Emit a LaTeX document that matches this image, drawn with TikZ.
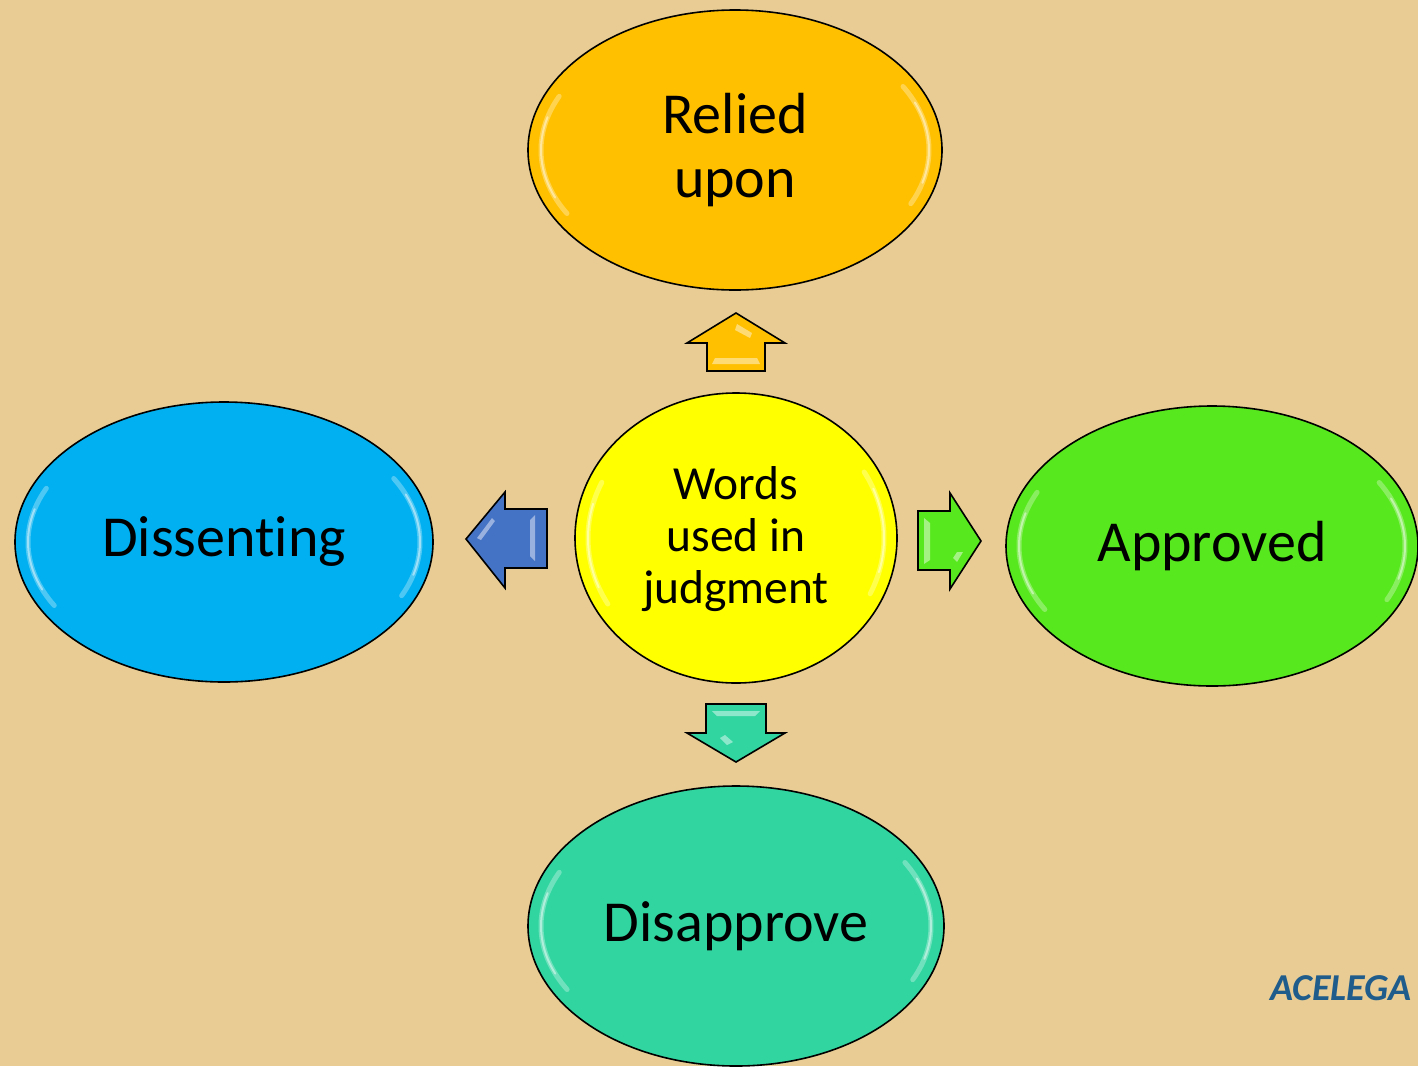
\documentclass[tikz,border=0pt]{standalone}
\usepackage{fontspec}
\setmainfont{Carlito}[Ligatures=NoCommon]
\usetikzlibrary{shapes.geometric}
\begin{document}
\definecolor{parchment}{HTML}{E8CC93}
\definecolor{reliedc}{HTML}{FFC000}
\definecolor{wordsc}{HTML}{FFFF00}
\definecolor{dissentc}{HTML}{00B0F0}
\definecolor{approvec}{HTML}{58E81E}
\definecolor{disapprc}{HTML}{31D5A0}
\definecolor{leftarrc}{HTML}{4472C4}
\definecolor{markc}{HTML}{1F5C8C}
\begin{tikzpicture}[x=1pt,y=-1pt,
  blockarrow/.style={draw=black, line width=1.6pt, line join=miter},
  bigtext/.style={font=\fontsize{58}{64}\selectfont},
  midtext/.style={font=\fontsize{47.5}{52}\selectfont},
  gloss/.style={draw=white, line width=5pt, opacity=0.3, line cap=round},
  glossthin/.style={draw=white, line width=2pt, opacity=0.45, line cap=round},
  shine/.style={fill=white, opacity=0.45}]
% page and background
\fill[parchment] (0,0) rectangle (1418,1066);
\useasboundingbox (0,0) rectangle (1418,1066);

% bubbles with a soft glossy rim
\newcommand{\bubble}[5]{%
  % #1 name, #2 centre, #3 x radius, #4 y radius, #5 fill
  \fill[#5, draw=black, line width=1.6pt] #2 ellipse[x radius=#3, y radius=#4];
  \draw[gloss] #2 ++(150:#3-13 and #4-13) arc[start angle=150, end angle=205, x radius=#3-13, y radius=#4-13];
  \draw[gloss] #2 ++(-30:#3-13 and #4-13) arc[start angle=-30, end angle=25, x radius=#3-13, y radius=#4-13];
  \draw[glossthin] #2 ++(158:#3-13 and #4-13) arc[start angle=158, end angle=195, x radius=#3-13, y radius=#4-13];
  \draw[glossthin] #2 ++(-22:#3-13 and #4-13) arc[start angle=-22, end angle=15, x radius=#3-13, y radius=#4-13];
  \coordinate (#1) at #2;
}
\bubble{relied}{(735,150)}{207}{140}{reliedc}
\bubble{words}{(736,538)}{161}{145}{wordsc}
\bubble{dissent}{(224,542)}{209}{140}{dissentc}
\bubble{approve}{(1212,546)}{206}{140}{approvec}
\bubble{disappr}{(736,926)}{208}{140}{disapprc}

% labels
\node[bigtext, align=center] (reliedtxt) at (relied) {Relied\\upon};
\node[midtext, align=center] (wordstxt) at ([yshift=-1]words) {Words\\used in\\judgment};
\node[bigtext] (dissenttxt) at (dissent) {Dissenting};
\node[bigtext] (approvetxt) at (approve) {Approved};
\node[bigtext] (disapprtxt) at (disappr) {Disapprove};

% block arrows pointing outwards from the centre
\draw[blockarrow, fill=reliedc]
  (736,313) -- (785,343) -- (765,343) -- (765,371) -- (707,371) -- (707,343) -- (687,343) -- cycle;
\fill[shine] (737,324) -- (752,333) -- (750,338) -- (735,330) -- cycle;
\fill[shine] (715,358) -- (757,358) -- (760,364) -- (712,364) -- cycle;

\draw[blockarrow, fill=leftarrc]
  (466,539) -- (505,492) -- (505,509) -- (547,509) -- (547,568) -- (505,568) -- (505,588) -- cycle;
\fill[shine] (477,538) -- (492,518) -- (495,521) -- (481,540) -- cycle;
\fill[shine] (530,520) -- (535,515) -- (535,561) -- (530,556) -- cycle;

\draw[blockarrow, fill=approvec]
  (981,541) -- (950,493) -- (950,511) -- (918,511) -- (918,570) -- (950,570) -- (950,589) -- cycle;
\fill[shine] (924,518) -- (930,523) -- (930,560) -- (924,564) -- cycle;
\fill[shine] (957,552) -- (963,552) -- (957,562) -- (953,558) -- cycle;

\draw[blockarrow, fill=disapprc]
  (736,762) -- (785,733) -- (766,733) -- (766,704) -- (706,704) -- (706,733) -- (687,733) -- cycle;
\fill[shine] (712,711) -- (760,711) -- (755,716) -- (717,716) -- cycle;
\fill[shine] (720,738) -- (725,735) -- (733,742) -- (727,745) -- cycle;

% corner mark
\node[anchor=base west, text=markc, font=\fontsize{38}{40}\selectfont\bfseries\itshape, inner sep=0pt] (mark) at (1270,1000) {ACELEGA};
\end{tikzpicture}
\end{document}
